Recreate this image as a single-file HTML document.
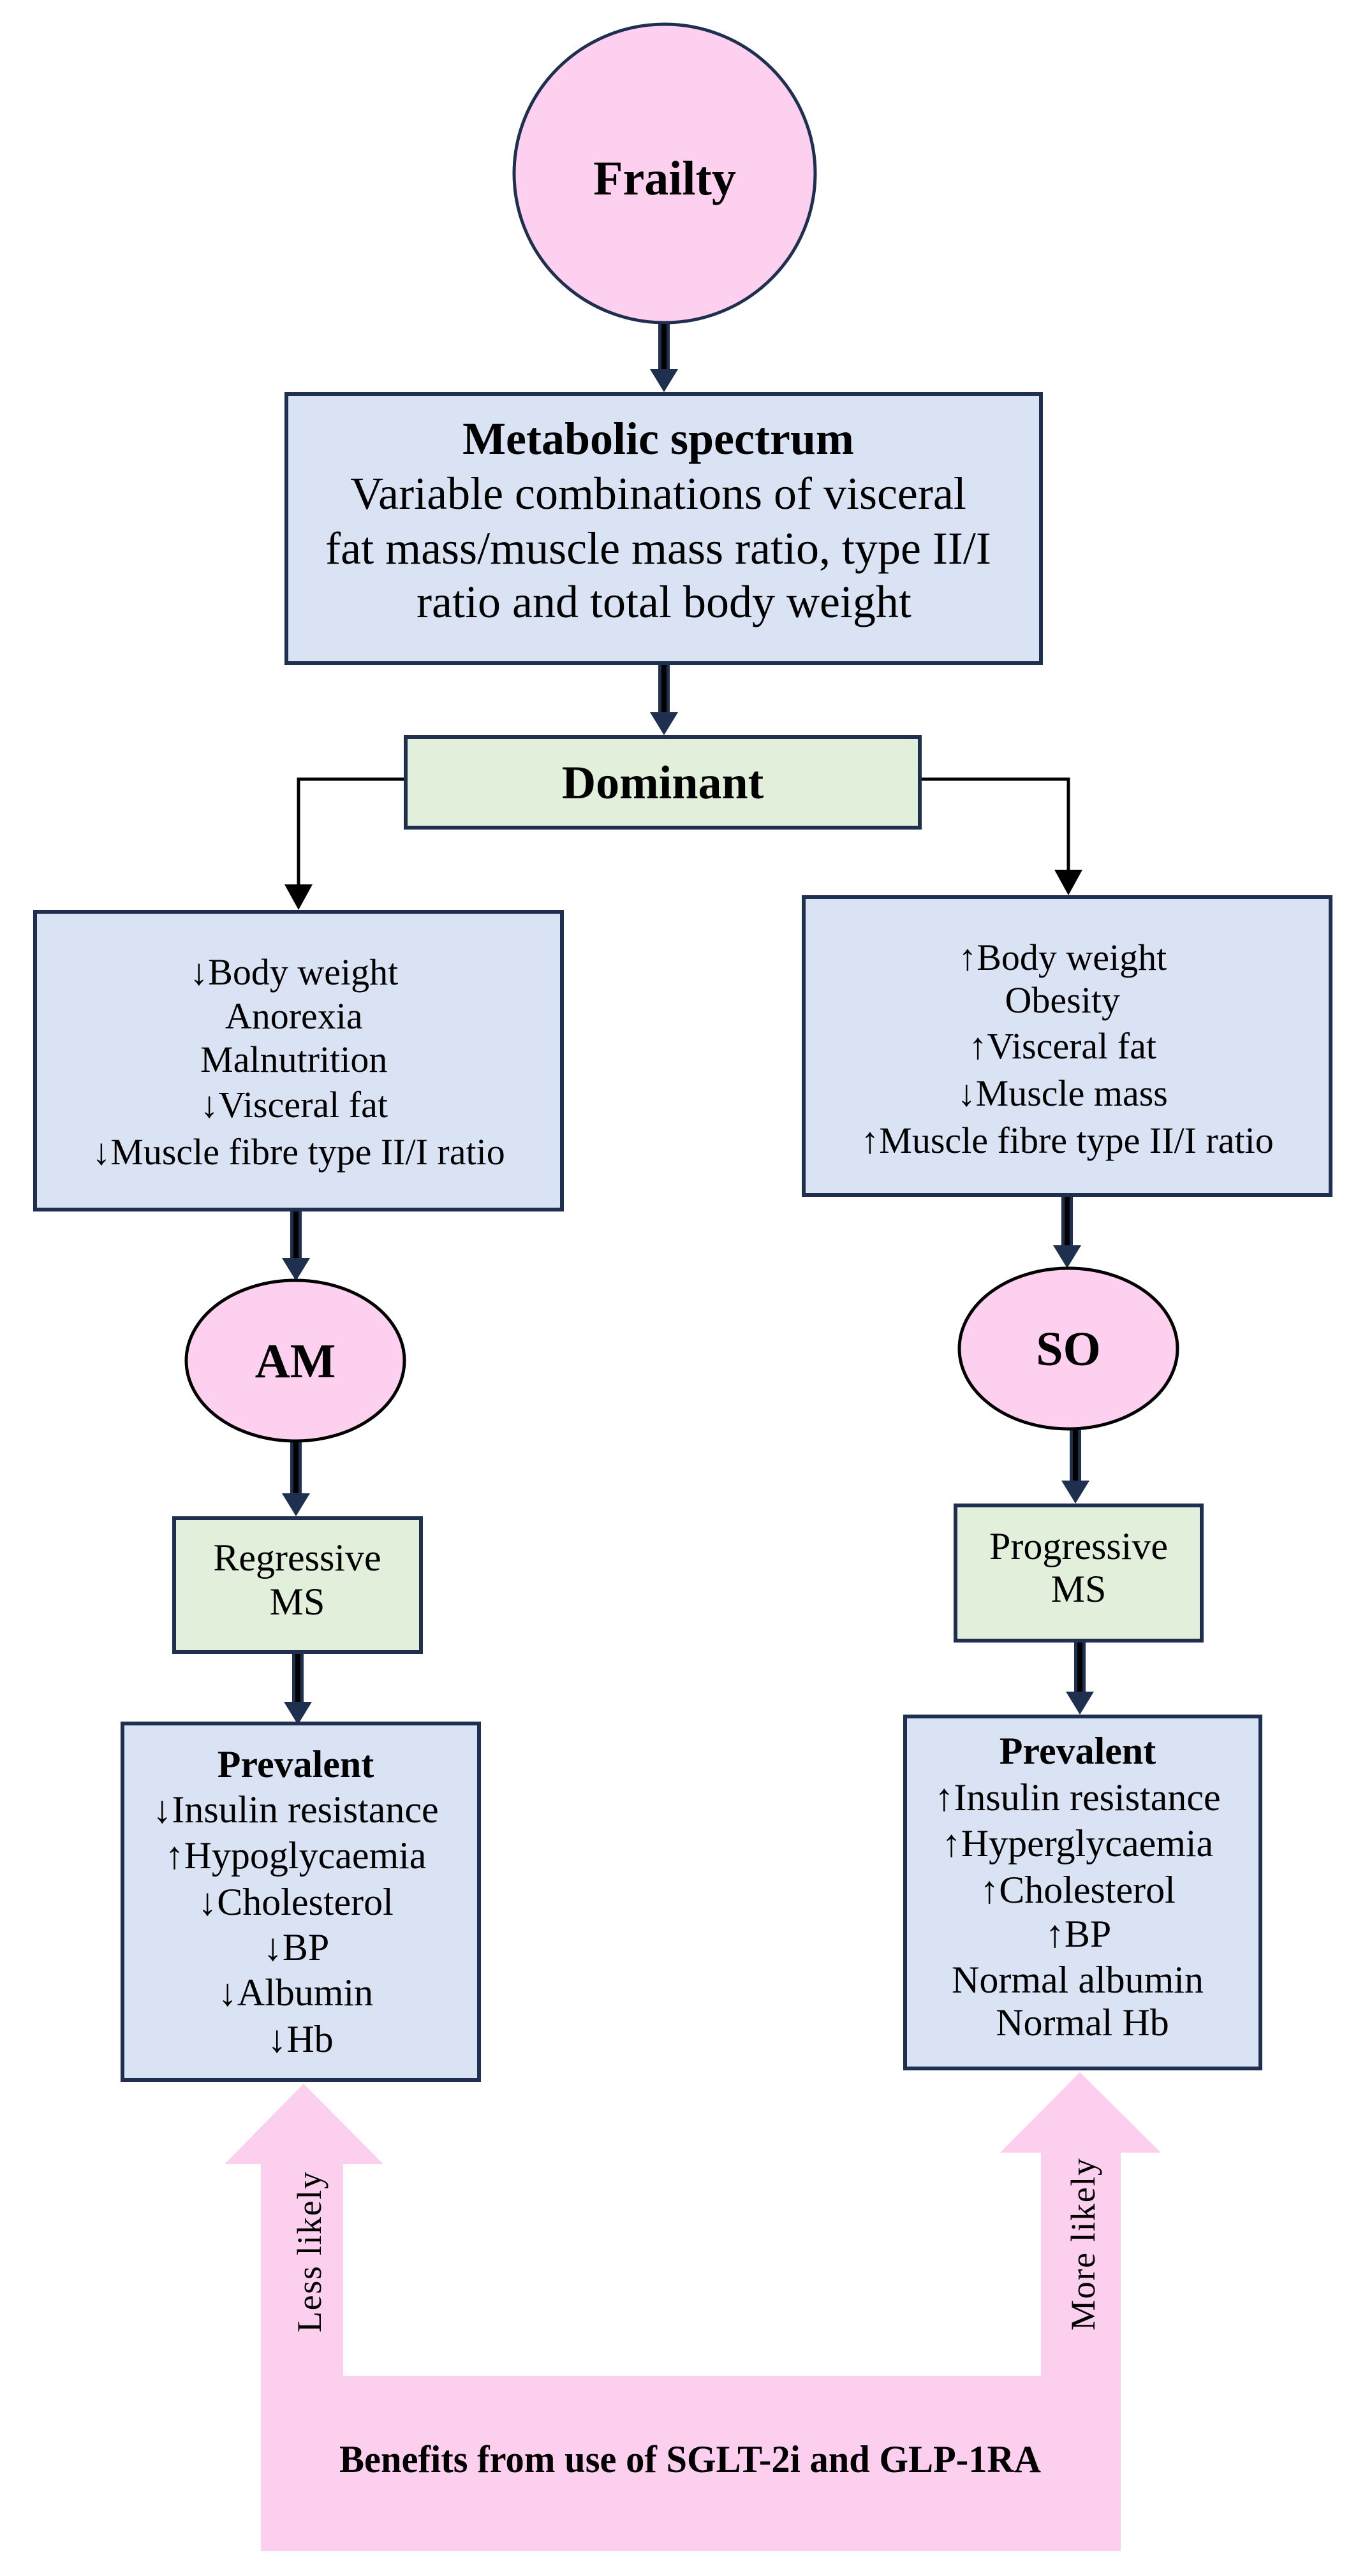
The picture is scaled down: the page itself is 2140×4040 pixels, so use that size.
<!DOCTYPE html>
<html><head><meta charset="utf-8"><style>
html,body{margin:0;padding:0;background:#fff}
svg{display:block}
text{font-family:"Liberation Serif","Times New Roman",serif;fill:#000}
.b{font-weight:bold}
</style></head><body>
<svg width="2140" height="4040" viewBox="0 0 2140 4040" xmlns="http://www.w3.org/2000/svg">
<defs>
<g id="ah"><path d="M-22,-36 L22,-36 L0,0 Z" fill="#1f2f4f"/></g>
</defs>
<g>
<rect x="1032" y="507" width="18" height="80" fill="#1f2f4f"/><rect x="1037" y="507" width="8" height="90" fill="#000"/><use href="#ah" x="1041" y="615"/>
<rect x="1032" y="1042" width="18" height="80" fill="#1f2f4f"/><rect x="1037" y="1042" width="8" height="90" fill="#000"/><use href="#ah" x="1041" y="1153"/>
<rect x="455" y="1899" width="18" height="85" fill="#1f2f4f"/><rect x="460" y="1899" width="8" height="95" fill="#000"/><use href="#ah" x="464" y="2009"/>
<rect x="455" y="2260" width="18" height="85" fill="#1f2f4f"/><rect x="460" y="2260" width="8" height="95" fill="#000"/><use href="#ah" x="464" y="2378"/>
<rect x="458" y="2593" width="18" height="82" fill="#1f2f4f"/><rect x="463" y="2593" width="8" height="92" fill="#000"/><use href="#ah" x="467" y="2705"/>
<rect x="1664" y="1876" width="18" height="83" fill="#1f2f4f"/><rect x="1669" y="1876" width="8" height="93" fill="#000"/><use href="#ah" x="1673" y="1989"/>
<rect x="1677" y="2241" width="18" height="87" fill="#1f2f4f"/><rect x="1682" y="2241" width="8" height="97" fill="#000"/><use href="#ah" x="1686" y="2358"/>
<rect x="1684" y="2575" width="18" height="84" fill="#1f2f4f"/><rect x="1689" y="2575" width="8" height="94" fill="#000"/><use href="#ah" x="1693" y="2689"/>
</g>
<path d="M633,1222 L468,1222 L468,1390" fill="none" stroke="#000" stroke-width="5"/>
<path d="M446,1387 L490,1387 L468,1427 Z" fill="#000"/>
<path d="M1443,1222 L1675,1222 L1675,1367" fill="none" stroke="#000" stroke-width="5"/>
<path d="M1653,1364 L1697,1364 L1675,1404 Z" fill="#000"/>
<ellipse cx="1042" cy="272" rx="236" ry="234" fill="#fcd0ee" stroke="#1f2f4f" stroke-width="5"/>
<text class="b" x="1042" y="305" font-size="76" text-anchor="middle">Frailty</text>
<rect x="449" y="618" width="1183" height="422" fill="#dae3f3" stroke="#1f2f4f" stroke-width="6"/>
<text x="1041" text-anchor="middle" font-size="72">
<tspan x="1041" y="712" font-weight="bold">Metabolic spectrum</tspan>
<tspan x="1041" y="798">Variable combinations of visceral</tspan>
<tspan x="1041" y="884">fat mass/muscle mass ratio, type II/I</tspan>
<tspan x="1041" y="968">ratio and total body weight</tspan>
</text>
<rect x="636" y="1156" width="806" height="142" fill="#e2efda" stroke="#1f2f4f" stroke-width="6"/>
<text class="b" x="1039" y="1252" font-size="74" text-anchor="middle">Dominant</text>
<rect x="55" y="1430" width="826" height="467" fill="#dae3f3" stroke="#1f2f4f" stroke-width="6"/>
<text font-size="58" text-anchor="middle">
<tspan x="468" y="1544">↓Body weight</tspan>
<tspan x="468" y="1613">Anorexia</tspan>
<tspan x="468" y="1681">Malnutrition</tspan>
<tspan x="468" y="1752">↓Visceral fat</tspan>
<tspan x="468" y="1826">↓Muscle fibre type II/I ratio</tspan>
</text>
<rect x="1260" y="1407" width="826" height="467" fill="#dae3f3" stroke="#1f2f4f" stroke-width="6"/>
<text font-size="58" text-anchor="middle">
<tspan x="1673" y="1521">↑Body weight</tspan>
<tspan x="1673" y="1588">Obesity</tspan>
<tspan x="1673" y="1660">↑Visceral fat</tspan>
<tspan x="1673" y="1734">↓Muscle mass</tspan>
<tspan x="1673" y="1808">↑Muscle fibre type II/I ratio</tspan>
</text>
<ellipse cx="463" cy="2134" rx="171" ry="126" fill="#fcd0ee" stroke="#000" stroke-width="5"/>
<text class="b" x="463" y="2160" font-size="76" text-anchor="middle">AM</text>
<ellipse cx="1675" cy="2115" rx="171" ry="126" fill="#fcd0ee" stroke="#000" stroke-width="5"/>
<text class="b" x="1675" y="2141" font-size="76" text-anchor="middle">SO</text>
<rect x="273" y="2381" width="387" height="210" fill="#e2efda" stroke="#1f2f4f" stroke-width="6"/>
<text font-size="60" text-anchor="middle"><tspan x="466" y="2463">Regressive</tspan><tspan x="466" y="2532">MS</tspan></text>
<rect x="1498" y="2361" width="386" height="212" fill="#e2efda" stroke="#1f2f4f" stroke-width="6"/>
<text font-size="60" text-anchor="middle"><tspan x="1691" y="2445">Progressive</tspan><tspan x="1691" y="2512">MS</tspan></text>
<rect x="192" y="2703" width="559" height="559" fill="#dae3f3" stroke="#1f2f4f" stroke-width="6"/>
<text font-size="60" text-anchor="middle">
<tspan x="471" y="2787" font-weight="bold">Prevalent</tspan>
<tspan x="471" y="2858">↓Insulin resistance</tspan>
<tspan x="471" y="2930">↑Hypoglycaemia</tspan>
<tspan x="471" y="3003">↓Cholesterol</tspan>
<tspan x="471" y="3074">↓BP</tspan>
<tspan x="471" y="3145">↓Albumin</tspan>
<tspan x="471" y="3218">↓Hb</tspan>
</text>
<rect x="1419" y="2692" width="557" height="552" fill="#dae3f3" stroke="#1f2f4f" stroke-width="6"/>
<text font-size="60" text-anchor="middle">
<tspan x="1697" y="2766" font-weight="bold">Prevalent</tspan>
<tspan x="1697" y="2839">↑Insulin resistance</tspan>
<tspan x="1697" y="2911">↑Hyperglycaemia</tspan>
<tspan x="1697" y="2984">↑Cholesterol</tspan>
<tspan x="1697" y="3053">↑BP</tspan>
<tspan x="1697" y="3125">Normal albumin</tspan>
<tspan x="1697" y="3192">Normal Hb</tspan>
</text>
<path d="M409,4001 L409,3394 L352,3394 L476,3268 L601,3394 L538,3394 L538,3726 L1632,3726 L1632,3376 L1568,3376 L1693,3250 L1820,3376 L1757,3376 L1757,4001 Z" fill="#fccfee"/>
<text class="b" x="1082" y="3877" font-size="60" text-anchor="middle" textLength="1100" lengthAdjust="spacingAndGlyphs">Benefits from use of SGLT-2i and GLP-1RA</text>
<text x="0" y="0" font-size="54" text-anchor="middle" textLength="252" lengthAdjust="spacing" transform="translate(503,3532) rotate(-90)">Less likely</text>
<text x="0" y="0" font-size="54" text-anchor="middle" textLength="270" lengthAdjust="spacing" transform="translate(1716,3520) rotate(-90)">More likely</text>
</svg>
</body></html>
